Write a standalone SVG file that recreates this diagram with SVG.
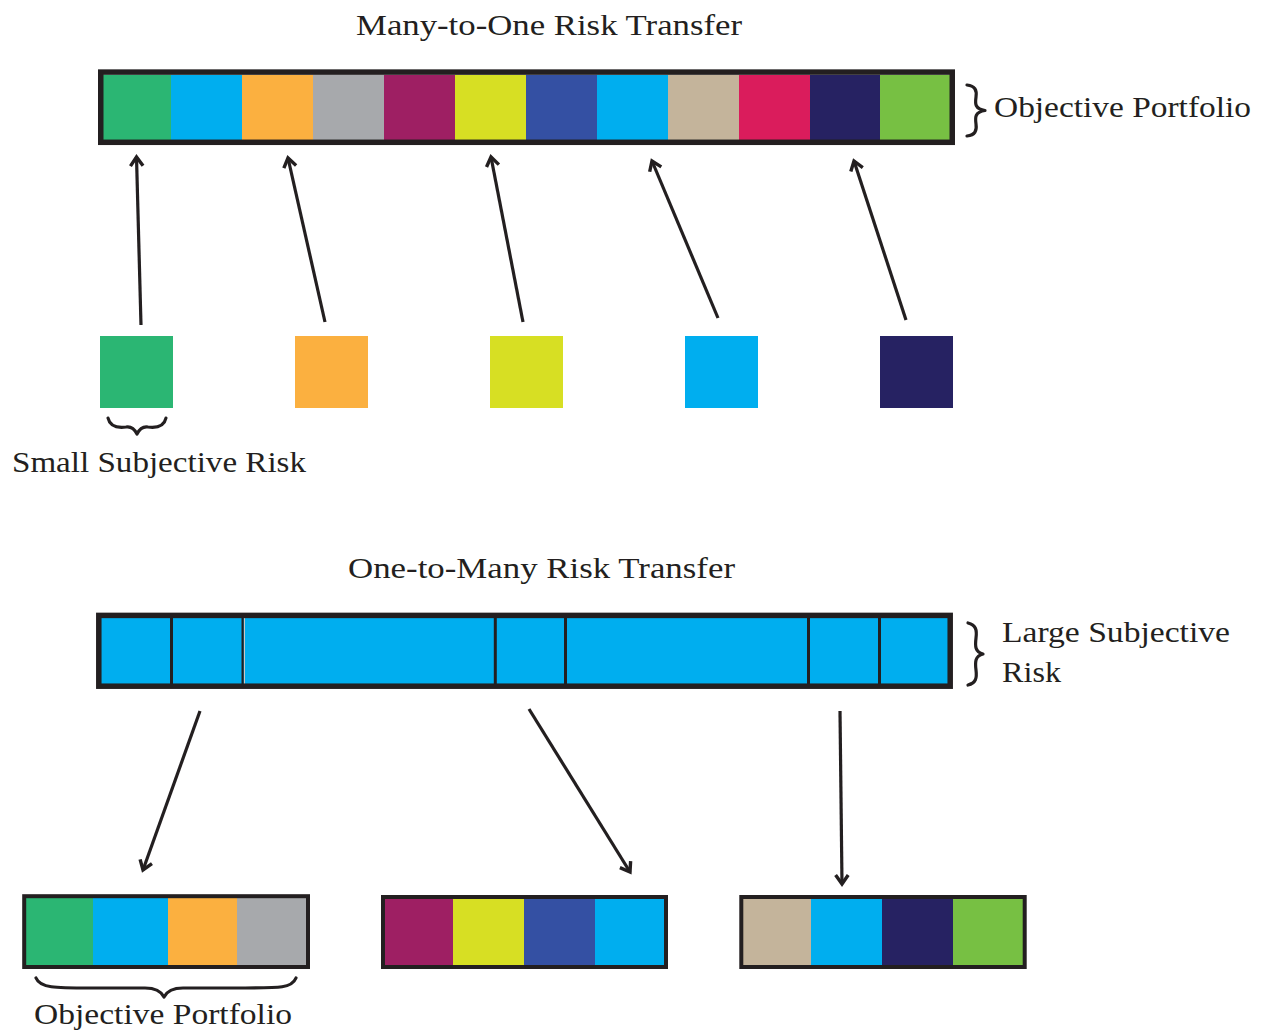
<svg xmlns="http://www.w3.org/2000/svg" width="1272" height="1035" viewBox="0 0 1272 1035">
<style>
.t{font-family:"Liberation Serif","Times New Roman",serif;font-size:29px;fill:#231F20}
.frame{fill:none;stroke:#231F20}
.arr{stroke:#231F20;stroke-width:3.2;fill:none;marker-end:url(#ah)}
.br{fill:none;stroke:#231F20;stroke-width:3.2;stroke-linecap:round;stroke-linejoin:round}
.div{stroke:#231F20;stroke-width:3}
.g{fill:#2BB673}.b{fill:#00AEEF}.o{fill:#FBB040}.gr{fill:#A7A9AC}.p{fill:#9E1F63}.y{fill:#D7DF23}
.db{fill:#3450A3}.tn{fill:#C4B49B}.r{fill:#DA1C5C}.n{fill:#262262}.lg{fill:#77C043}
</style>
<defs>
<marker id="ah" markerUnits="userSpaceOnUse" markerWidth="20" markerHeight="20" refX="0" refY="0" viewBox="-12 -10 14 20" orient="auto" overflow="visible">
<path d="M-9,-6.3 L0,0 L-9,6.3" fill="none" stroke="#231F20" stroke-width="3.4" stroke-linejoin="miter"/>
</marker>
</defs>
<rect width="1272" height="1035" fill="#fff"/>

<g id="title-top"><text class="t" x="356" y="35" textLength="386" lengthAdjust="spacingAndGlyphs">Many-to-One Risk Transfer</text></g>

<g id="objective-portfolio-bar">
<rect class="g" x="103" y="75" width="68" height="65"/>
<rect class="b" x="171" y="75" width="71" height="65"/>
<rect class="o" x="242" y="75" width="71" height="65"/>
<rect class="gr" x="313" y="75" width="71" height="65"/>
<rect class="p" x="384" y="75" width="71" height="65"/>
<rect class="y" x="455" y="75" width="71" height="65"/>
<rect class="db" x="526" y="75" width="71" height="65"/>
<rect class="b" x="597" y="75" width="71" height="65"/>
<rect class="tn" x="668" y="75" width="71" height="65"/>
<rect class="r" x="739" y="75" width="71" height="65"/>
<rect class="n" x="810" y="75" width="70" height="65"/>
<rect class="lg" x="880" y="75" width="70" height="65"/>
<rect class="frame" x="100.75" y="72.1" width="851.5" height="70.2" stroke-width="5.5"/>
</g>

<g id="label-objective-top">
<path class="br" d="M967,85 C975,86 977,90 976,97 C975,104 975,109 985,110.5 C975,112 975,117 976,124 C977,131 975,135 967,136"/>
<text class="t" x="994" y="117" textLength="257" lengthAdjust="spacingAndGlyphs">Objective Portfolio</text>
</g>

<g id="small-squares">
<rect class="g" x="100" y="336" width="73" height="72"/>
<rect class="o" x="295" y="336" width="73" height="72"/>
<rect class="y" x="490" y="336" width="73" height="72"/>
<rect class="b" x="685" y="336" width="73" height="72"/>
<rect class="n" x="880" y="336" width="73" height="72"/>
</g>

<g id="label-small">
<path class="br" d="M108,418 C110,427 118,428 126,427 C132,426 135,430 137,434 C139,430 142,426 148,427 C156,428 164,427 166,418"/>
<text class="t" x="12" y="472" textLength="294" lengthAdjust="spacingAndGlyphs">Small Subjective Risk</text>
</g>

<g id="title-bottom"><text class="t" x="348" y="578" textLength="387" lengthAdjust="spacingAndGlyphs">One-to-Many Risk Transfer</text></g>

<g id="large-risk-bar">
<rect class="b" x="101" y="618" width="848" height="66"/>
<rect class="b" x="497" y="615" width="68" height="71"/>
<line class="div" x1="171.5" y1="618" x2="171.5" y2="684"/>
<line x1="242.6" y1="618" x2="242.6" y2="684" stroke="#231F20" stroke-width="2.2"/>
<line x1="244.5" y1="618" x2="244.5" y2="684" stroke="#c8c8c8" stroke-width="1"/>
<line class="div" x1="495.3" y1="618" x2="495.3" y2="684" stroke-width="3.4"/>
<line class="div" x1="565.5" y1="618" x2="565.5" y2="684"/>
<line class="div" x1="808.5" y1="618" x2="808.5" y2="684"/>
<line class="div" x1="879.5" y1="618" x2="879.5" y2="684"/>
<rect class="frame" x="98.8" y="615.4" width="851.4" height="70.8" stroke-width="5.5"/>
</g>

<g id="label-large">
<path class="br" d="M968,623 C976,625 977,630 976,638 C975,646 975,652 983,654 C975,656 975,662 976,670 C977,678 976,683 968,685"/>
<text class="t" x="1002" y="642" textLength="228" lengthAdjust="spacingAndGlyphs">Large Subjective</text>
<text class="t" x="1002" y="682" textLength="59" lengthAdjust="spacingAndGlyphs">Risk</text>
</g>

<g id="portfolio-1">
<rect class="g" x="26" y="898" width="67" height="67"/>
<rect class="b" x="93" y="898" width="75" height="67"/>
<rect class="o" x="168" y="898" width="69" height="67"/>
<rect class="gr" x="237" y="898" width="69" height="67"/>
<rect class="frame" x="24.2" y="896.2" width="283.8" height="70.8" stroke-width="4"/>
</g>

<g id="label-objective-bottom">
<path class="br" d="M36,978 C40,988 55,988 90,988 L145,988 C156,988 161,991 164,997 C167,991 172,988 183,988 L245,988 C280,988 292,988 296,978"/>
<text class="t" x="34" y="1024" textLength="258" lengthAdjust="spacingAndGlyphs">Objective Portfolio</text>
</g>

<g id="portfolio-2">
<rect class="p" x="385" y="898" width="68" height="67"/>
<rect class="y" x="453" y="898" width="71" height="67"/>
<rect class="db" x="524" y="898" width="71" height="67"/>
<rect class="b" x="595" y="898" width="70" height="67"/>
<rect class="frame" x="383" y="897" width="283" height="70" stroke-width="4"/>
</g>

<g id="portfolio-3">
<rect class="tn" x="743" y="898" width="68" height="68"/>
<rect class="b" x="811" y="898" width="71" height="68"/>
<rect class="n" x="882" y="898" width="71" height="68"/>
<rect class="lg" x="953" y="898" width="71" height="68"/>
<rect class="frame" x="741.3" y="897" width="283.4" height="70" stroke-width="4"/>
</g>

<g id="connectors">
<line class="arr" x1="141" y1="325" x2="136.5" y2="157"/>
<line class="arr" x1="325" y1="322" x2="288" y2="158"/>
<line class="arr" x1="523" y1="322" x2="491" y2="157"/>
<line class="arr" x1="718" y1="318" x2="652" y2="161"/>
<line class="arr" x1="906" y1="320" x2="854" y2="161"/>
<line class="arr" x1="200" y1="711" x2="143" y2="870"/>
<line class="arr" x1="529" y1="709" x2="630" y2="872"/>
<line class="arr" x1="840" y1="711" x2="842" y2="884"/>
</g>
</svg>
